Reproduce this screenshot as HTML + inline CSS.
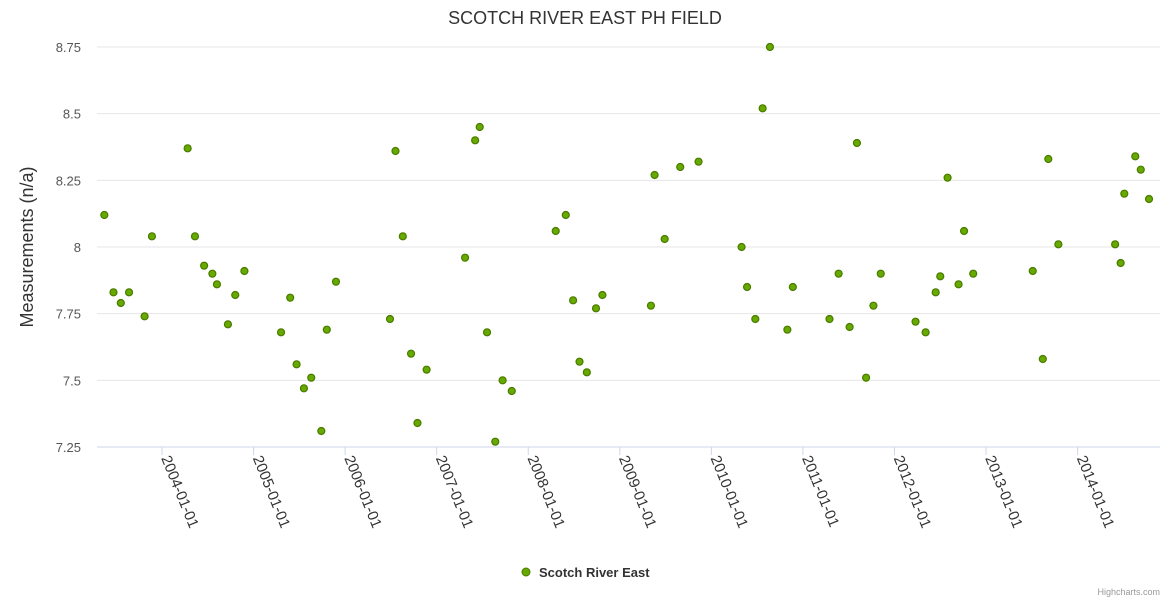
<!DOCTYPE html>
<html><head><meta charset="utf-8"><style>
body{margin:0;background:#fff;font-family:"Liberation Sans",Arial,sans-serif}
svg text{font-family:"Liberation Sans",Arial,sans-serif}
</style></head><body>
<svg id="c" width="1170" height="600" xmlns="http://www.w3.org/2000/svg">
<text x="585" y="24" text-anchor="middle" font-size="18" fill="#333">SCOTCH RIVER EAST PH FIELD</text>
<text x="0" y="0" transform="translate(33,247) rotate(-90)" text-anchor="middle" font-size="18" fill="#333">Measurements (n/a)</text>
<g id="grid"></g><g id="xax"></g><g id="pts"></g>
<g>
<circle cx="526" cy="572" r="4" fill="#66aa00" stroke="#4a7a00" stroke-width="1"/>
<text x="539" y="577" font-size="13" font-weight="bold" fill="#333">Scotch River East</text>
</g>
<text x="1160" y="595" text-anchor="end" font-size="9" fill="#999">Highcharts.com</text>
</svg>
<script>
const yTicks=[7.25,7.5,7.75,8,8.25,8.5,8.75];
const yTickLabels=["7.25","7.5","7.75","8","8.25","8.5","8.75"];
const xTickYears=[2004,2005,2006,2007,2008,2009,2010,2011,2012,2013,2014];
const xTickLabels=["2004-01-01","2005-01-01","2006-01-01","2007-01-01","2008-01-01","2009-01-01","2010-01-01","2011-01-01","2012-01-01","2013-01-01","2014-01-01"];
const dates=[2003.37,2003.47,2003.55,2003.64,2003.81,2003.89,2004.28,2004.36,2004.46,2004.55,2004.60,2004.72,2004.80,2004.90,2005.30,2005.40,2005.47,2005.55,2005.63,2005.74,2005.80,2005.90,2006.49,2006.55,2006.63,2006.72,2006.79,2006.89,2007.31,2007.42,2007.47,2007.55,2007.64,2007.72,2007.82,2008.30,2008.41,2008.49,2008.56,2008.64,2008.74,2008.81,2009.34,2009.38,2009.49,2009.66,2009.86,2010.33,2010.39,2010.48,2010.56,2010.64,2010.83,2010.89,2011.29,2011.39,2011.51,2011.59,2011.69,2011.77,2011.85,2012.23,2012.34,2012.45,2012.50,2012.58,2012.70,2012.76,2012.86,2013.51,2013.62,2013.68,2013.79,2014.41,2014.47,2014.51,2014.63,2014.69,2014.78];
const values=[8.12,7.83,7.79,7.83,7.74,8.04,8.37,8.04,7.93,7.90,7.86,7.71,7.82,7.91,7.68,7.81,7.56,7.47,7.51,7.31,7.69,7.87,7.73,8.36,8.04,7.60,7.34,7.54,7.96,8.40,8.45,7.68,7.27,7.50,7.46,8.06,8.12,7.80,7.57,7.53,7.77,7.82,7.78,8.27,8.03,8.30,8.32,8.00,7.85,7.73,8.52,8.75,7.69,7.85,7.73,7.90,7.70,8.39,7.51,7.78,7.90,7.72,7.68,7.83,7.89,8.26,7.86,8.06,7.90,7.91,7.58,8.33,8.01,8.01,7.94,8.20,8.34,8.29,8.18];
const L=97,R=1160,T=47,B=447,x0=2003.29,x1=2014.90,y0=7.25,y1=8.75;
const X=v=>L+(v-x0)/(x1-x0)*(R-L), Y=v=>B-(v-y0)/(y1-y0)*(B-T);
const NS="http://www.w3.org/2000/svg";
function mk(t,a,p){const e=document.createElementNS(NS,t);for(const k in a)e.setAttribute(k,a[k]);p.appendChild(e);return e;}
const g=document.getElementById('grid'),xa=document.getElementById('xax'),pg=document.getElementById('pts');
yTicks.forEach((v,i)=>{
 const ln=mk('line',{x1:L,x2:R,y1:Y(v),y2:Y(v),stroke:i==0?'#ccd6eb':'#e6e6e6','stroke-width':1},g);
 
 
 const t=mk('text',{x:L-16,y:Y(v)+5,'text-anchor':'end','font-size':13,fill:'#555'},g);
 t.textContent=yTickLabels[i];
 
 
});
xTickYears.forEach((v,i)=>{
 const x=X(v);
 const tk=mk('line',{x1:x,x2:x,y1:B,y2:B+8,stroke:'#ccd6eb'},xa);
 
 
 const t=mk('text',{x:0,y:0,transform:`translate(${x-1},${B+11}) rotate(68)`,'font-size':15,fill:'#333'},xa);
 t.textContent=xTickLabels[i];
 
 
});
dates.forEach((d,i)=>{
 const c=mk('circle',{cx:X(d),cy:Y(values[i]),r:3.5,fill:'#66aa00',stroke:'#4a7a00','stroke-width':1.2},pg);
 
 
});
</script>
</body></html>
